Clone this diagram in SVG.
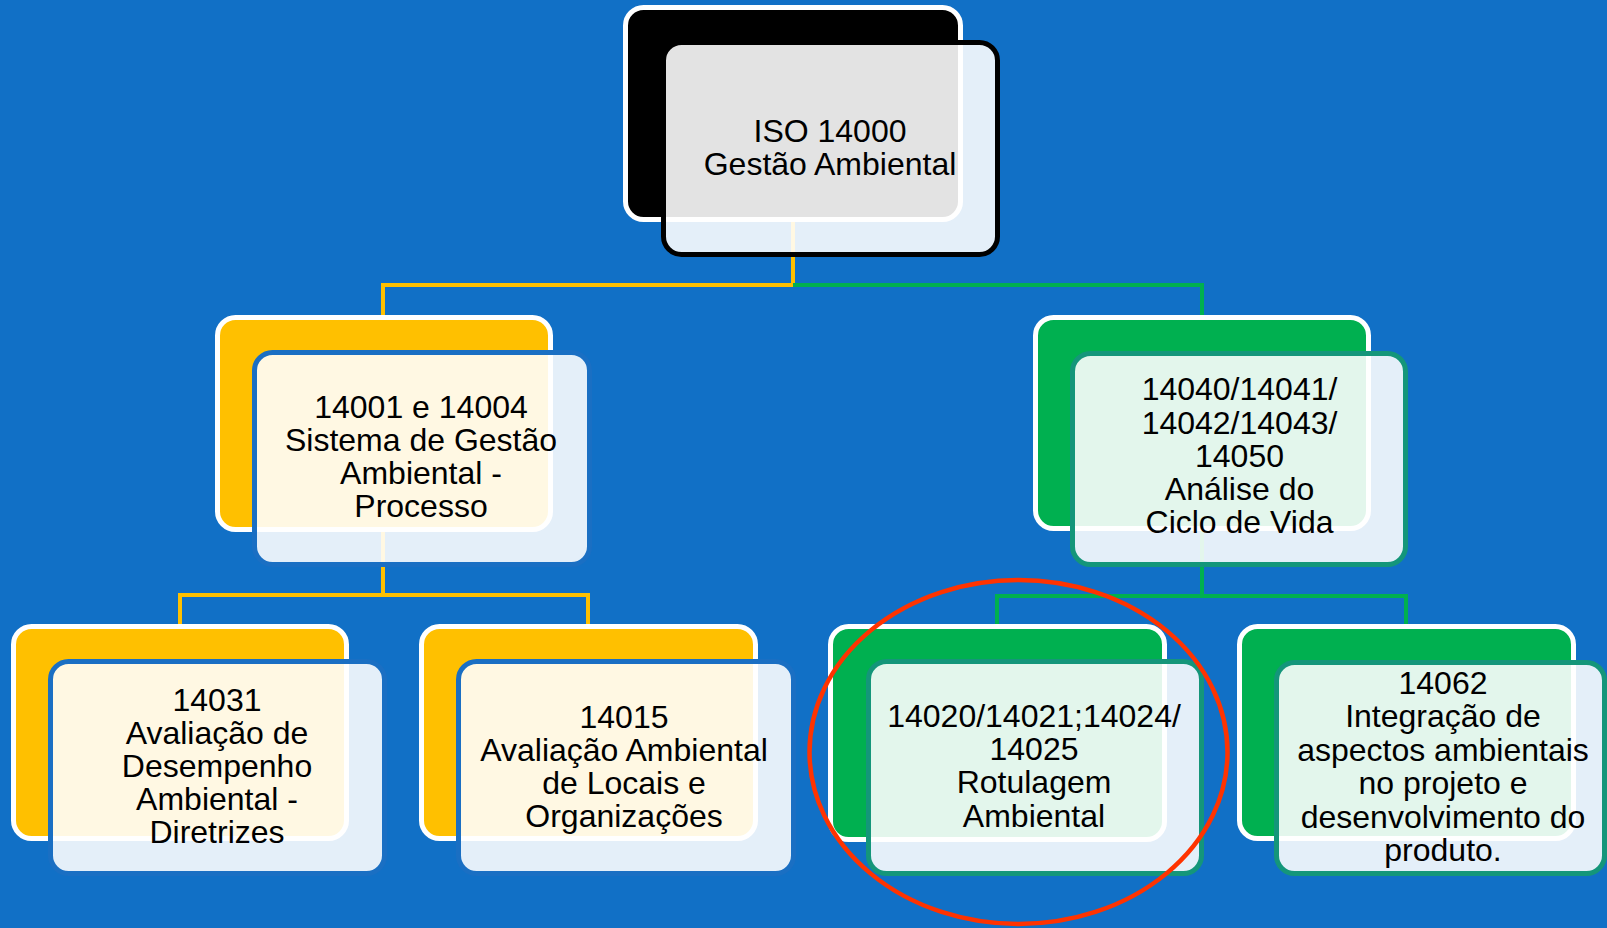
<svg xmlns="http://www.w3.org/2000/svg" width="1607" height="928" viewBox="0 0 1607 928">
<style>
.bg{fill:#1170C6}
.back{stroke:#FFFFFF;stroke-width:5}
.by{fill:#FFC000}
.bgn{fill:#00B050}
.bk{fill:#000000}
.front{fill:#FFFFFF;fill-opacity:0.89;stroke-width:5}
.fy{stroke:#1A6FC3}
.fg{stroke:#14967A}
.fk{stroke:#000000}
.cy{fill:none;stroke:#FFC000;stroke-width:4}
.cg{fill:none;stroke:#00B050;stroke-width:4}
text{font-family:"Liberation Sans",Arial,sans-serif;font-size:32px;fill:#000000;text-anchor:middle}
</style>
<rect class="bg" x="0" y="0" width="1607" height="928"/>
<g id="connectors">
<path class="cy" d="M793 222 V285 H383 V317"/>
<path class="cg" d="M793 285 H1202 V317"/>
<path class="cy" d="M383 532 V595 H180 V626"/>
<path class="cy" d="M383 595 H588 V626"/>
<path class="cg" d="M1202 531 V596 H997 V626"/>
<path class="cg" d="M1202 596 H1406 V626"/>
</g>
<g id="node-iso14000">
<rect class="back bk" x="625.5" y="7.5" width="335" height="212" rx="18"/>
<rect class="front fk" x="663.5" y="42.5" width="334" height="212" rx="18"/>
<text x="830" y="142">ISO 14000</text>
<text x="830" y="175">Gestão Ambiental</text>
</g>
<g id="node-14001">
<rect class="back by" x="217.5" y="317.5" width="333" height="212" rx="18"/>
<rect class="front fy" x="254.5" y="352.5" width="335" height="212" rx="18"/>
<text x="421" y="418">14001 e 14004</text>
<text x="421" y="451">Sistema de Gestão</text>
<text x="421" y="484">Ambiental -</text>
<text x="421" y="517">Processo</text>
</g>
<g id="node-14040">
<rect class="back bgn" x="1035.5" y="317.5" width="333" height="211" rx="18"/>
<rect class="front fg" x="1072.5" y="353.5" width="333" height="211" rx="18"/>
<text x="1239.5" y="400">14040/14041/</text>
<text x="1239.5" y="434">14042/14043/</text>
<text x="1239.5" y="467">14050</text>
<text x="1239.5" y="500">Análise do</text>
<text x="1239.5" y="533">Ciclo de Vida</text>
</g>
<g id="node-14031">
<rect class="back by" x="13.5" y="626.5" width="333" height="212" rx="18"/>
<rect class="front fy" x="50.5" y="661.5" width="334" height="212" rx="18"/>
<text x="217" y="711">14031</text>
<text x="217" y="744">Avaliação de</text>
<text x="217" y="777">Desempenho</text>
<text x="217" y="810">Ambiental -</text>
<text x="217" y="843">Diretrizes</text>
</g>
<g id="node-14015">
<rect class="back by" x="421.5" y="626.5" width="334" height="212" rx="18"/>
<rect class="front fy" x="458.5" y="661.5" width="335" height="212" rx="18"/>
<text x="624" y="728">14015</text>
<text x="624" y="761">Avaliação Ambiental</text>
<text x="624" y="794">de Locais e</text>
<text x="624" y="827">Organizações</text>
</g>
<g id="node-14020">
<rect class="back bgn" x="830.5" y="626.5" width="334" height="213" rx="18"/>
<rect class="front fg" x="868.5" y="661.5" width="333" height="212" rx="18"/>
<text x="1034" y="727">14020/14021;14024/</text>
<text x="1034" y="760">14025</text>
<text x="1034" y="793">Rotulagem</text>
<text x="1034" y="827">Ambiental</text>
</g>
<g id="node-14062">
<rect class="back bgn" x="1239.5" y="626.5" width="334" height="212" rx="18"/>
<rect class="front fg" x="1276.5" y="662.5" width="328" height="211" rx="18"/>
<text x="1443" y="694">14062</text>
<text x="1443" y="727">Integração de</text>
<text x="1443" y="761">aspectos ambientais</text>
<text x="1443" y="794">no projeto e</text>
<text x="1443" y="828">desenvolvimento do</text>
<text x="1443" y="861">produto.</text>
</g>
<ellipse id="highlight" cx="1018.5" cy="752" rx="209" ry="172" fill="none" stroke="#FF3300" stroke-width="4.5"/>
</svg>
